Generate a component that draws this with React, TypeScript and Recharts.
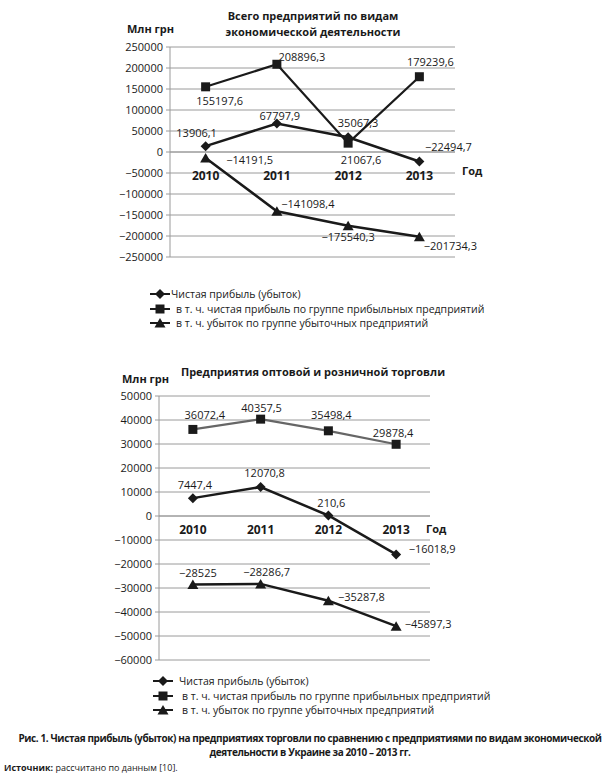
import React from 'react'
import {
  CartesianGrid,
  LabelList,
  Line,
  LineChart,
  ReferenceDot,
  ReferenceLine,
  XAxis,
  YAxis,
} from 'recharts'

const years = ['2010', '2011', '2012', '2013']

// Всего предприятий
const totalNet = [13906.1, 67797.9, 35067.3, -22494.7]
const totalProfit = [155197.6, 208896.3, 21067.6, 179239.6]
const totalLoss = [-14191.5, -141098.4, -175540.3, -201734.3]
const totalTicks = [-250000, -200000, -150000, -100000, -50000, 0, 50000, 100000, 150000, 200000, 250000]

// Оптовая и розничная торговля
const tradeNet = [7447.4, 12070.8, 210.6, -16018.9]
const tradeProfit = [36072.4, 40357.5, 35498.4, 29878.4]
const tradeLoss = [-28525, -28286.7, -35287.8, -45897.3]
const tradeTicks = [-60000, -50000, -40000, -30000, -20000, -10000, 0, 10000, 20000, 30000, 40000, 50000]

const seriesNames = [
  'Чистая прибыль (убыток)',
  'в т. ч. чистая прибыль по группе прибыльных предприятий',
  'в т. ч. убыток по группе убыточных предприятий',
]

// label offsets (dx, dy) from the point, per series
const totalNetOff = [[-9, -14], [3, -8], [10, -15], [29, -15]]
const totalProfitOff = [[14, 14], [25, -8], [13, 16], [11, -15]]
const totalLossOff = [[44, 2], [31, -8], [0, 11], [31, 9]]
const tradeNetOff = [[2, -14], [4, -15], [3, -13], [36, -6]]
const tradeProfitOff = [[12, -15], [1, -12], [3, -16], [-3, -12]]
const tradeLossOff = [[5, -12], [6, -12], [33, -4], [32, -3]]

const totalRows = years.map((year, i) => ({
  year,
  net: totalNet[i],
  profit: totalProfit[i],
  loss: totalLoss[i],
}))
const tradeRows = years.map((year, i) => ({
  year,
  net: tradeNet[i],
  profit: tradeProfit[i],
  loss: tradeLoss[i],
}))

const FONT = '"Open Sans", sans-serif'
const INK = '#1a1a1a'
const GRID = '#9a9a9a'

const fmtValue = (v: number) => (v < 0 ? '\u2212' : '') + String(Math.abs(v)).replace('.', ',')
const fmtTick = (v: number) => (v < 0 ? '\u2212' + Math.abs(v) : String(v))

type Shape = 'diamond' | 'square' | 'triangle'

function markerPath(shape: Shape, cx: number, cy: number) {
  if (shape === 'diamond') return `M${cx},${cy - 5}L${cx + 5},${cy}L${cx},${cy + 5}L${cx - 5},${cy}Z`
  if (shape === 'square') return `M${cx - 4.5},${cy - 4.5}h9v9h-9Z`
  return `M${cx},${cy - 5}L${cx + 5.5},${cy + 4.5}L${cx - 5.5},${cy + 4.5}Z`
}

const dotFor = (shape: Shape) => (p: any) => {
  if (p.cx == null || p.cy == null) return <g key={p.index} />
  return <path key={`${shape}-${p.index}`} d={markerPath(shape, p.cx, p.cy)} fill={INK} />
}

const labelFor = (offsets: number[][]) => (p: any) => {
  const [dx, dy] = offsets[p.index] || [0, 0]
  return (
    <text
      x={Number(p.x) + dx}
      y={Number(p.y) + dy}
      textAnchor="middle"
      dominantBaseline="central"
      fontSize={11}
      fontFamily={FONT}
      fill={INK}
    >
      {fmtValue(Number(p.value))}
    </text>
  )
}

const yearLabel = (dy: number) => (p: any) => {
  const vb = p.viewBox || {}
  return (
    <text
      x={vb.x}
      y={vb.y + dy}
      textAnchor="middle"
      dominantBaseline="central"
      fontSize={12}
      fontWeight={700}
      fontFamily={FONT}
      fill={INK}
    >
      {p.value}
    </text>
  )
}

function T({
  x,
  y,
  children,
  center,
  size = 11,
  bold,
}: {
  x: number
  y: number
  children: React.ReactNode
  center?: boolean
  size?: number
  bold?: boolean
}) {
  return (
    <div
      style={{
        position: 'absolute',
        left: x,
        top: y,
        transform: center ? 'translate(-50%, -50%)' : 'translate(0, -50%)',
        fontSize: size,
        fontWeight: bold ? 700 : 400,
        lineHeight: 1.2,
        whiteSpace: 'nowrap',
        color: INK,
      }}
    >
      {children}
    </div>
  )
}

function LegendBlock({ x, y, gap, textX }: { x: number; y: number; gap: number; textX: number[] }) {
  const shapes: Shape[] = ['diamond', 'square', 'triangle']
  return (
    <>
      {shapes.map((s, i) => (
        <React.Fragment key={s}>
          <svg
            width={22}
            height={12}
            style={{ position: 'absolute', left: x - 11, top: y + i * gap - 6 }}
          >
            <line x1={1} y1={6} x2={21} y2={6} stroke={INK} strokeWidth={2} />
            <path d={markerPath(s, 11, 6)} fill={INK} />
          </svg>
          <T x={textX[i]} y={y + i * gap} size={10.5}>
            {seriesNames[i]}
          </T>
        </React.Fragment>
      ))}
    </>
  )
}

function Panel({
  rows,
  ticks,
  top,
  height,
  plotTop,
  plotBottom,
  plotLeft,
  plotRight,
  yearDy,
  profitColor,
  offsets,
}: {
  rows: any[]
  ticks: number[]
  top: number
  height: number
  plotTop: number
  plotBottom: number
  plotLeft: number
  plotRight: number
  yearDy: number
  profitColor: string
  offsets: number[][][]
}) {
  return (
    <div style={{ position: 'absolute', left: 0, top, width: 612, height }}>
      <LineChart
        width={612}
        height={height}
        data={rows}
        margin={{ top: plotTop, bottom: height - plotBottom, left: 0, right: 612 - plotRight }}
      >
        <CartesianGrid vertical={false} stroke={GRID} strokeWidth={1} />
        <XAxis dataKey="year" type="category" scale="band" hide />
        <YAxis
          type="number"
          domain={[ticks[0], ticks[ticks.length - 1]]}
          ticks={ticks}
          interval={0}
          width={plotLeft}
          tickFormatter={fmtTick}
          tick={{ fontSize: 11, fontFamily: FONT, fill: INK }}
          axisLine={{ stroke: GRID }}
          tickLine={{ stroke: GRID }}
          tickSize={4}
          tickMargin={3}
        />
        <ReferenceLine y={0} stroke={GRID} strokeWidth={1} />
        {years.map((yr) => (
          <ReferenceDot
            key={yr}
            x={yr}
            y={0}
            r={0}
            fill="none"
            stroke="none"
            label={{ value: yr, content: yearLabel(yearDy) }}
          />
        ))}
        <Line
          dataKey="profit"
          stroke={profitColor}
          strokeWidth={2.2}
          dot={dotFor('square')}
          isAnimationActive={false}
        >
          <LabelList dataKey="profit" content={labelFor(offsets[1])} />
        </Line>
        <Line dataKey="net" stroke={INK} strokeWidth={2.5} dot={dotFor('diamond')} isAnimationActive={false}>
          <LabelList dataKey="net" content={labelFor(offsets[0])} />
        </Line>
        <Line dataKey="loss" stroke={INK} strokeWidth={2.5} dot={dotFor('triangle')} isAnimationActive={false}>
          <LabelList dataKey="loss" content={labelFor(offsets[2])} />
        </Line>
      </LineChart>
    </div>
  )
}

export default function App() {
  return (
    <div
      style={{
        position: 'absolute',
        left: 0,
        top: 0,
        width: 612,
        height: 777,
        background: '#fff',
        fontFamily: FONT,
        overflow: 'hidden',
      }}
    >
      <T x={313} y={16} center bold size={11}>
        Всего предприятий по видам
      </T>
      <T x={313} y={32} center bold size={11}>
        экономической деятельности
      </T>
      <T x={127} y={29} bold size={11}>
        Млн грн
      </T>
      <Panel
        rows={totalRows}
        ticks={totalTicks}
        top={0}
        height={275}
        plotTop={47}
        plotBottom={257}
        plotLeft={170}
        plotRight={455}
        yearDy={23}
        profitColor={INK}
        offsets={[totalNetOff, totalProfitOff, totalLossOff]}
      />
      <T x={462} y={171} bold size={11}>
        Год
      </T>
      <LegendBlock x={160} y={294} gap={14.5} textX={[171, 176, 176]} />

      <T x={313} y={372} center bold size={11}>
        Предприятия оптовой и розничной торговли
      </T>
      <T x={122} y={379} bold size={11}>
        Млн грн
      </T>
      <Panel
        rows={tradeRows}
        ticks={tradeTicks}
        top={360}
        height={310}
        plotTop={36}
        plotBottom={300}
        plotLeft={159}
        plotRight={430}
        yearDy={13}
        profitColor="#666"
        offsets={[tradeNetOff, tradeProfitOff, tradeLossOff]}
      />
      <T x={426} y={529} bold size={11}>
        Год
      </T>
      <LegendBlock x={163} y={681} gap={14.5} textX={[179, 182, 182]} />

      <T x={310} y={738} center bold size={10}>
        <span style={{ letterSpacing: -0.4 }}>
          Рис. 1. Чистая прибыль (убыток) на предприятиях торговли по сравнению с предприятиями по видам экономической
        </span>
      </T>
      <T x={310} y={752} center bold size={10}>
        <span style={{ letterSpacing: -0.4 }}>деятельности в Украине за 2010 – 2013 гг.</span>
      </T>
      <T x={4} y={768} size={9}>
        <b>Источник:</b> рассчитано по данным [10].
      </T>
    </div>
  )
}
